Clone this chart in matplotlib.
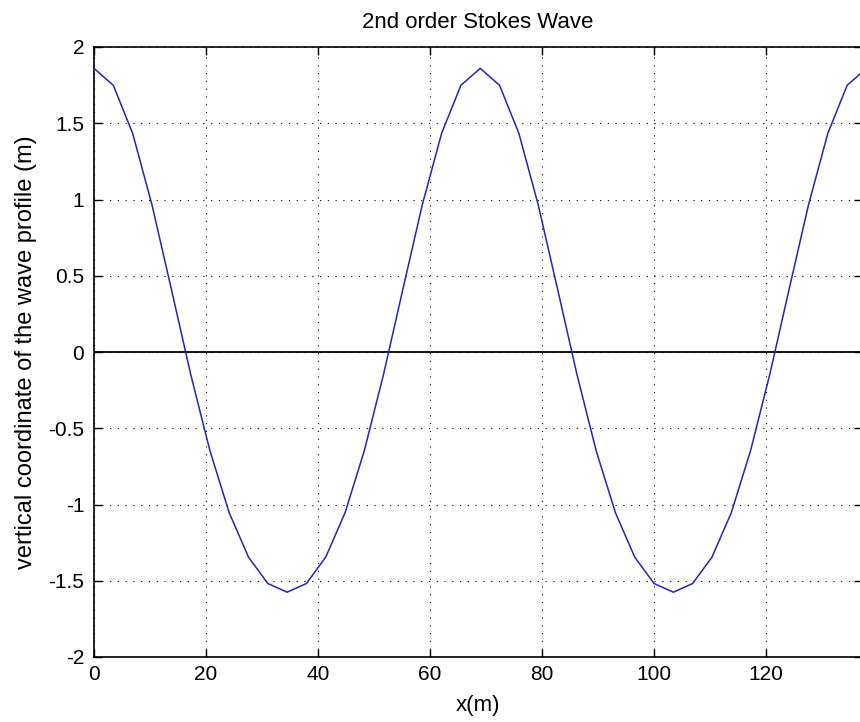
import matplotlib
matplotlib.use("Agg")
import matplotlib.pyplot as plt
from matplotlib import font_manager
import numpy as np

# Sample positions (m) and wave elevation (m)
x_m = [0.0, 3.45, 6.9, 10.35, 13.8, 17.25, 20.7, 24.15, 27.6, 31.05,
       34.5, 37.95, 41.4, 44.85, 48.3, 51.75, 55.2, 58.65, 62.1, 65.55,
       69.0, 72.45, 75.9, 79.35, 82.8, 86.25, 89.7, 93.15, 96.6, 100.05,
       103.5, 106.95, 110.4, 113.85, 117.3, 120.75, 124.2, 127.65, 131.1, 134.55,
       138.0]
eta_m = [1.86, 1.749, 1.434, 0.966, 0.415, -0.143, -0.646, -1.054, -1.345, -1.518,
         -1.575, -1.518, -1.345, -1.054, -0.646, -0.143, 0.415, 0.966, 1.434, 1.749,
         1.86, 1.749, 1.434, 0.966, 0.415, -0.143, -0.646, -1.054, -1.345, -1.518,
         -1.575, -1.518, -1.345, -1.054, -0.646, -0.143, 0.415, 0.966, 1.434, 1.749,
         1.86]
zero_x = [0, 140]
zero_y = [0, 0]

xticks = [0, 20, 40, 60, 80, 100, 120]
xticklabels = ["0", "20", "40", "60", "80", "100", "120"]
yticks = [-2, -1.5, -1, -0.5, 0, 0.5, 1, 1.5, 2]
yticklabels = ["-2", "-1.5", "-1", "-0.5", "0", "0.5", "1", "1.5", "2"]

title = "2nd order Stokes Wave"
xlabel = "x(m)"
ylabel = "vertical coordinate of the wave profile (m)"

plt.rcParams['font.family'] = ['Liberation Sans', 'DejaVu Sans']
fs_tick, fs_lab = 15, 16

fig = plt.figure(figsize=(8.6, 7.22), dpi=100)
ax = fig.add_axes([94/860, 65/722, 768/860, 610/722])

ax.plot(x_m, eta_m, color='#2525b0', lw=1.1, zorder=3)
ax.plot(zero_x, zero_y, color='black', lw=1.3, zorder=2)

ax.set_xlim(0, 137.2)
ax.set_ylim(-2, 2)
ax.set_xticks(xticks)
ax.set_xticklabels(xticklabels)
ax.set_yticks(yticks)
ax.set_yticklabels(yticklabels)

ax.grid(True, color='black', linestyle=(0, (1, 6)), lw=0.8)
ax.tick_params(direction='in', length=6, width=1, top=True, right=True,
               labelsize=fs_tick, colors='black')
ax.tick_params(axis='y', pad=7)
ax.tick_params(axis='x', pad=6)
for s in ax.spines.values():
    s.set_linewidth(1.2)

ax.set_title(title, fontsize=fs_lab, pad=14)
ax.set_xlabel(xlabel, fontsize=fs_lab, labelpad=8)
ax.set_ylabel(ylabel, fontsize=17, labelpad=8)

fig.savefig("out.png", dpi=100)
